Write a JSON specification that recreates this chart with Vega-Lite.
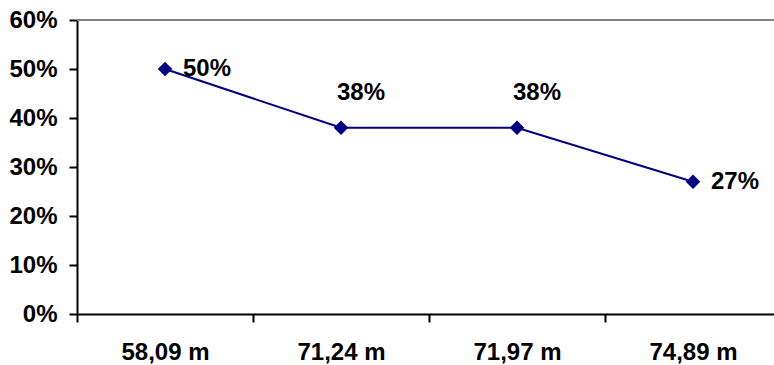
{
  "$schema": "https://vega.github.io/schema/vega-lite/v6.json",
  "width": 697,
  "height": 294,
  "autosize": {"type": "none"},
  "padding": {"left": 77, "top": 20, "right": 0, "bottom": 51},
  "background": "white",
  "config": {"view": {"stroke": null}, "font": "Liberation Sans"},
  "data": {
    "values": [
      {"distance": "58,09 m", "share": 0.5, "pos": "right"},
      {"distance": "71,24 m", "share": 0.38, "pos": "above"},
      {"distance": "71,97 m", "share": 0.38, "pos": "above"},
      {"distance": "74,89 m", "share": 0.27, "pos": "right"}
    ]
  },
  "encoding": {
    "x": {
      "field": "distance",
      "type": "nominal",
      "sort": null,
      "scale": {"type": "band", "range": [0, 704], "paddingInner": 0, "paddingOuter": 0},
      "axis": {
        "title": null,
        "labelAngle": 0,
        "tickBand": "extent",
        "tickSize": 8,
        "tickWidth": 2,
        "tickColor": "black",
        "domainColor": "black",
        "domainWidth": 2,
        "labelPadding": 18,
        "labelFont": "Liberation Sans",
        "labelFontWeight": "bold",
        "labelFontSize": 24,
        "labelColor": "black",
        "grid": false
      }
    },
    "y": {
      "field": "share",
      "type": "quantitative",
      "scale": {"domain": [0, 0.6], "nice": false, "zero": true},
      "axis": {
        "title": null,
        "values": [0, 0.1, 0.2, 0.3, 0.4, 0.5, 0.6],
        "format": ".0%",
        "tickSize": 8,
        "tickWidth": 2,
        "tickColor": "black",
        "domainColor": "black",
        "domainWidth": 2,
        "labelPadding": 12,
        "labelFont": "Liberation Sans",
        "labelFontWeight": "bold",
        "labelFontSize": 24,
        "labelColor": "black",
        "grid": false
      }
    }
  },
  "layer": [
    {
      "data": {"values": [{"top": 0.6}]},
      "mark": {"type": "rule", "color": "#808080", "strokeWidth": 2},
      "encoding": {
        "x": null,
        "y": {"field": "top", "type": "quantitative"}
      }
    },
    {
      "mark": {"type": "line", "color": "#000080", "strokeWidth": 2}
    },
    {
      "mark": {"type": "point", "shape": "diamond", "size": 210, "filled": true, "color": "#000080", "opacity": 1}
    },
    {
      "transform": [{"filter": "datum.pos === 'right'"}],
      "mark": {"type": "text", "align": "left", "baseline": "middle", "dx": 18, "font": "Liberation Sans", "fontWeight": "bold", "fontSize": 24, "color": "black"},
      "encoding": {"text": {"field": "share", "type": "quantitative", "format": ".0%"}}
    },
    {
      "transform": [{"filter": "datum.pos === 'above'"}],
      "mark": {"type": "text", "align": "left", "baseline": "middle", "dx": -4, "dy": -35, "font": "Liberation Sans", "fontWeight": "bold", "fontSize": 24, "color": "black"},
      "encoding": {"text": {"field": "share", "type": "quantitative", "format": ".0%"}}
    }
  ]
}
